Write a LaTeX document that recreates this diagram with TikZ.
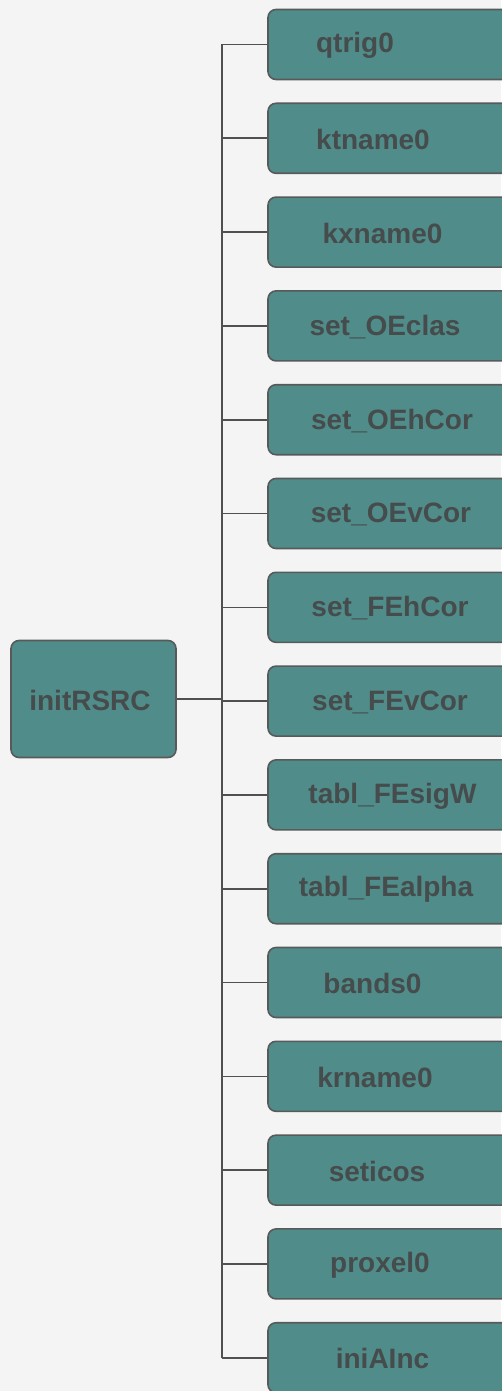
\documentclass[tikz,border=0pt]{standalone}
\usepackage{fontspec}
\setmainfont{Liberation Sans}
\definecolor{bgc}{RGB}{244,244,244}
\definecolor{boxfill}{RGB}{80,140,138}
\definecolor{boxedge}{RGB}{88,90,90}
\definecolor{wirec}{RGB}{80,80,80}
\definecolor{txtc}{RGB}{70,76,76}
\tikzset{
  fnbox/.style={draw=boxedge, line width=1.6pt, fill=boxfill, rounded corners=8pt,
    minimum width=244pt, minimum height=70pt, inner sep=0pt},
  rootbox/.style={draw=boxedge, line width=1.6pt, fill=boxfill, rounded corners=8pt,
    minimum width=165pt, minimum height=117pt, inner sep=0pt},
  fntext/.style={text=txtc, font=\bfseries\fontsize{28}{32}\selectfont, inner sep=0pt},
  wire/.style={draw=wirec, line width=1.6pt}
}
\begin{document}
\begin{tikzpicture}[x=1pt, y=-1pt]
  \useasboundingbox (0,0) rectangle (501,1391);
  \fill[bgc] (0,0) rectangle (501,1391);
  % root routine
  \node[rootbox] (root) at (93.5,699) {};
  \node[fntext] (roottext) at (90,700) {initRSRC};
  % called routines, one row each
  \foreach \i/\tx/\name in {
      1/355/qtrig0, 2/373/ktname0, 3/382.5/kxname0, 4/385/set\_OEclas,
      5/392/set\_OEhCor, 6/391/set\_OEvCor, 7/390/set\_FEhCor, 8/390/set\_FEvCor,
      9/392.5/tabl\_FEsigW, 10/386/tabl\_FEalpha, 11/372.5/bands0, 12/375/krname0,
      13/377/seticos, 14/380/proxel0, 15/382.5/iniAInc} {
    \pgfmathsetmacro{\yy}{44.5+93.8*(\i-1)}
    \node[fnbox] (b\i) at (390,\yy) {};
    \node[fntext] (l\i) at (\tx,\yy+1) {\name};
    \coordinate (t\i) at (222,\yy);
    \draw[wire] (t\i) -- (b\i.west);
  }
  \draw[wire] (t1) -- (t15);
  \coordinate (j) at (root.east -| t1);
  \draw[wire] (root.east) -- (j);
\end{tikzpicture}
\end{document}
